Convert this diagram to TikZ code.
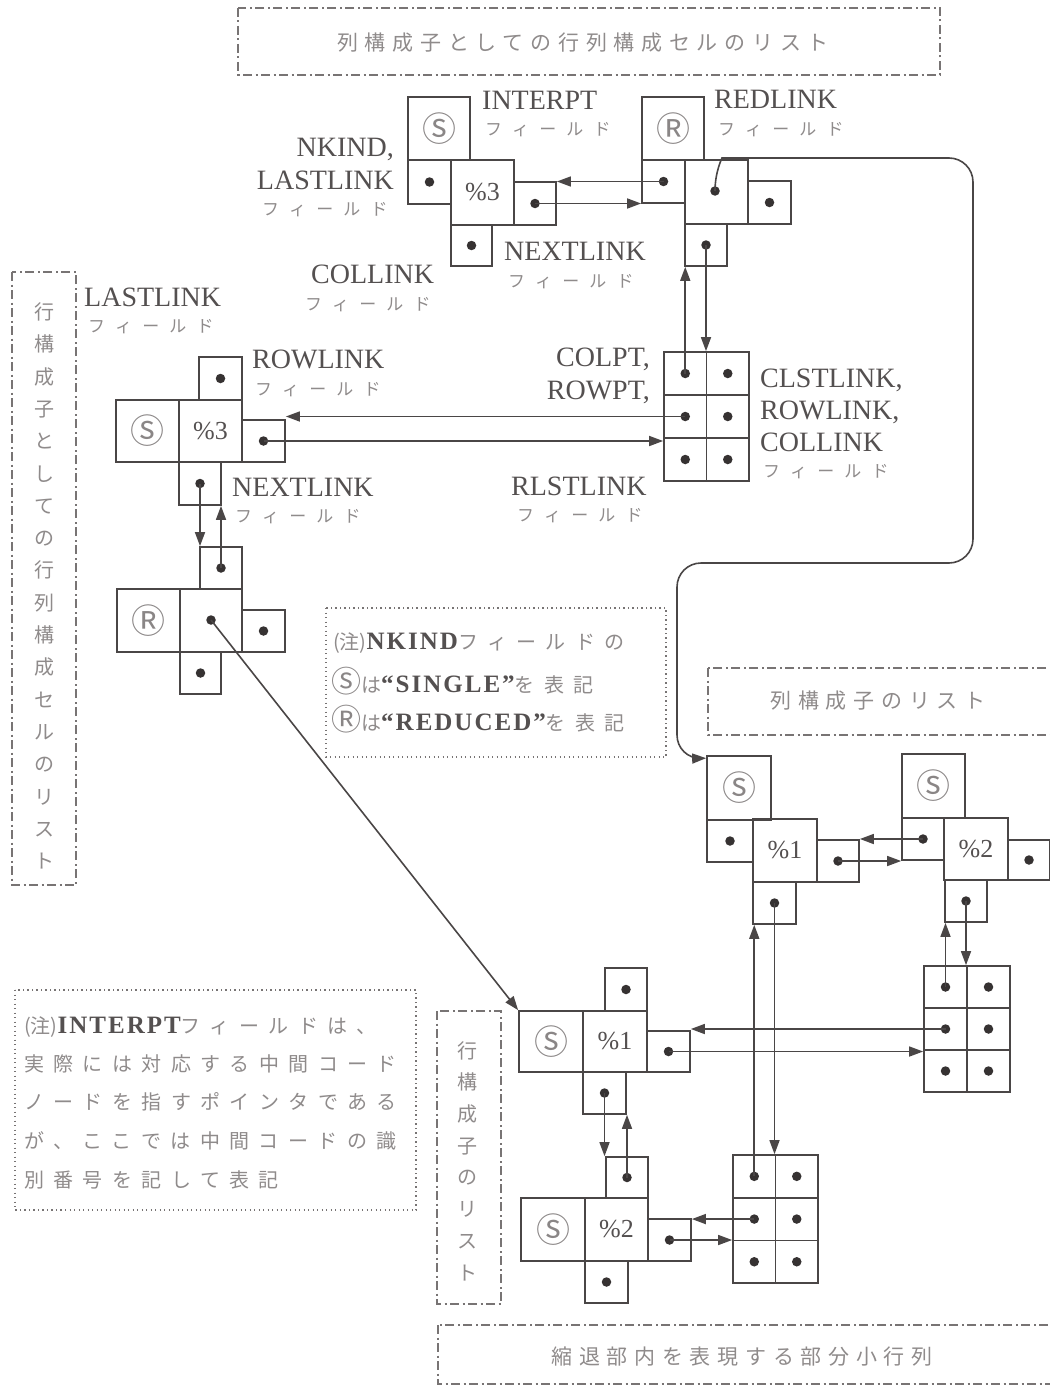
\documentclass[tikz,border=0pt]{standalone}
\usepackage{fontspec}
\setmainfont{Liberation Serif}
\newfontfamily\jp{Noto Sans CJK JP}
\newfontfamily\jpf[LetterSpace=60]{Noto Sans CJK JP}
\newfontfamily\jpt[LetterSpace=32]{Noto Sans CJK JP}
\newfontfamily\jpn[LetterSpace=47]{Noto Sans CJK JP}
\newfontfamily\symf{Noto Sans CJK JP}
\usetikzlibrary{arrows.meta,calc}
\definecolor{linec}{HTML}{4A4646}
\definecolor{dotc}{HTML}{363232}
\definecolor{txtc}{HTML}{545050}
\definecolor{jpc}{HTML}{8F8B8B}
\definecolor{framec}{HTML}{787474}
\definecolor{symc}{HTML}{8A8686}
\newcommand\cS{{\symf\fontsize{34}{34}\selectfont\textcolor{symc}{Ⓢ}}}
\newcommand\cR{{\symf\fontsize{34}{34}\selectfont\textcolor{symc}{Ⓡ}}}
\newcommand\ncS{{\symf\fontsize{30}{30}\selectfont\textcolor{symc}{Ⓢ}}}
\newcommand\ncR{{\symf\fontsize{30}{30}\selectfont\textcolor{symc}{Ⓡ}}}
\newcommand\nj[1]{{\color{jpc}\jpn\fontsize{20}{22}\selectfont #1}}
\newcommand\nb[1]{{\color{txtc}\fontsize{25}{27}\selectfont\bfseries\addfontfeatures{LetterSpace=8}#1}}
\newcommand\bx[6]{\node[cell, minimum width={#4-#2}, minimum height={#5-#3}] (#1) at ({(#2+#4)/2},{(#3+#5)/2}) {#6};}
\newcommand\mtx[5]{%
  \foreach \r/\c/\k in {0/0/a,0/1/b,1/0/c,1/1/d,2/0/e,2/1/f}{%
    \node[cell, minimum width=#4, minimum height=#5] (#1\k) at ({#2+(\c+0.5)*#4},{#3+(\r+0.5)*#5}) {};
    \node[pdot] (#1\k d) at (#1\k) {};
  }}
\begin{document}
\begin{tikzpicture}[x=1pt,y=-1pt,
  cell/.style={draw=linec, line width=1.7pt, rectangle, inner sep=0pt, font=\fontsize{26}{28}\selectfont, text=txtc},
  pdot/.style={circle, fill=dotc, inner sep=0pt, minimum size=9.5pt},
  arr/.style={draw=linec, line width=1.6pt, -{Triangle[length=14pt,width=10pt]}},
  lbl/.style={text=txtc, font=\fontsize{28}{30}\selectfont, inner sep=0pt},
  fld/.style={text=jpc, font=\jpf\fontsize{17}{20}\selectfont, inner sep=0pt},
  ttl/.style={text=jpc, font=\jpt\fontsize{21}{24}\selectfont, inner sep=0pt},
  dd/.style={draw=framec, line width=1.5pt, dash pattern=on 9pt off 3.5pt on 2pt off 3.5pt},
  dotb/.style={draw=framec, line width=1.3pt, dash pattern=on 1.3pt off 3.2pt},
  vtxt/.style={text=jpc, font=\jp\fontsize{20}{32.3}\selectfont, align=center, inner sep=0pt},
  note/.style={inner sep=0pt, anchor=base west, font=\fontsize{23}{25}\selectfont},
]
\useasboundingbox (0,0) rectangle (1049,1386);

% ---------- frames ----------
\draw[dd] (238,8) rectangle (940,75);
\node[ttl] (tTop) at (583,43) {列構成子としての行列構成セルのリスト};
\draw[dd] (12,272) rectangle (76,885);
\node[vtxt] (vRow) at (44,586) {行\\構\\成\\子\\と\\し\\て\\の\\行\\列\\構\\成\\セ\\ル\\の\\リ\\ス\\ト};
\draw[dd] (708,668) rectangle (1062,735);
\node[ttl] (tCol) at (878,701) {列構成子のリスト};
\draw[dd] (437,1011) rectangle (501,1304);
\node[vtxt, font=\jp\fontsize{20}{31.7}\selectfont] (vRow2) at (467,1161) {行\\構\\成\\子\\の\\リ\\ス\\ト};
\draw[dd] (438,1325) rectangle (1062,1384);
\node[ttl] (tSub) at (742,1357) {縮退部内を表現する部分小行列};

\draw[dotb] (326,608) rectangle (666,757);
\draw[dotb] (15,990) rectangle (416,1210);

% ---------- top A (column %3) ----------
\bx{aS}{408}{97}{470}{160}{\cS}
\bx{aL}{408}{160}{451}{204}{}
\bx{aC}{451}{160}{514}{225}{\%3}
\bx{aR}{514}{182}{556}{225}{}
\bx{aB}{451}{225}{492}{266}{}
\node[pdot] (aLd) at (aL) {};
\node[pdot] (aRd) at (aR) {};
\node[pdot] (aBd) at (aB) {};

% ---------- top B (reduced) ----------
\bx{bS}{642}{97}{704}{160}{\cR}
\bx{bL}{642}{160}{685}{203}{}
\bx{bC}{685}{160}{748}{224}{}
\bx{bR}{748}{181}{791}{224}{}
\bx{bB}{685}{224}{727}{266}{}
\node[pdot] (bLd) at (bL) {};
\node[pdot] (bCd) at (715,191) {};
\node[pdot] (bRd) at (bR) {};
\node[pdot] (bBd) at (bB) {};

\draw[arr] (bLd.center) -- (bLd.center -| aR.east);
\draw[arr] (aRd.center) -- (aRd.center -| bL.west);

% ---------- matrix M1 ----------
\mtx{m1}{664}{352}{42.5}{43}
\draw[arr] (m1ad.center) -- (m1ad.center |- bB.south);
\draw[arr] (bBd.center) -- (bBd.center |- m1a.north);

% ---------- left row node %3 ----------
\bx{lT}{199}{357}{242}{400}{}
\bx{lS}{116}{400}{179}{462}{\cS}
\bx{lC}{179}{400}{242}{462}{\%3}
\bx{lR}{242}{420}{285}{462}{}
\bx{lB}{179}{462}{221}{505}{}
\node[pdot] (lTd) at (lT) {};
\node[pdot] (lRd) at (lR) {};
\node[pdot] (lBd) at (lB) {};
\draw[arr] (m1cd.center) -- (m1cd.center -| lR.east);
\draw[arr] (lRd.center) -- (lRd.center -| m1e.west);

% ---------- left reduced node ----------
\bx{rT}{200}{547}{242}{589}{}
\bx{rS}{117}{589}{180}{652}{\cR}
\bx{rC}{180}{589}{242}{652}{}
\bx{rR}{242}{610}{285}{652}{}
\bx{rB}{180}{652}{221}{694}{}
\node[pdot] (rTd) at (rT) {};
\node[pdot] (rCd) at (211,620) {};
\node[pdot] (rRd) at (rR) {};
\node[pdot] (rBd) at (rB) {};
\draw[arr] (lBd.center) -- (lBd.center |- rT.north);
\draw[arr] (rTd.center) -- (rTd.center |- lB.south);

% ---------- column %1 ----------
\bx{cAS}{707}{756}{771}{820}{\cS}
\bx{cAL}{707}{820}{753}{862}{}
\bx{cAC}{753}{819}{817}{882}{\%1}
\bx{cAR}{817}{840}{859}{882}{}
\bx{cAB}{753}{882}{796}{924}{}
\node[pdot] (cALd) at (cAL) {};
\node[pdot] (cARd) at (cAR) {};
\node[pdot] (cABd) at (cAB) {};

% ---------- column %2 ----------
\bx{cBS}{902}{754}{965}{818}{\cS}
\bx{cBL}{902}{818}{944}{860}{}
\bx{cBC}{944}{818}{1008}{880}{\%2}
\bx{cBR}{1008}{840}{1050}{880}{}
\bx{cBB}{945}{880}{987}{922}{}
\node[pdot] (cBLd) at (cBL) {};
\node[pdot] (cBRd) at (cBR) {};
\node[pdot] (cBBd) at (cBB) {};
\draw[arr] (cBLd.center) -- (cBLd.center -| cAR.east);
\draw[arr] (cARd.center) -- (cARd.center -| cBL.west);

% ---------- matrix M2 ----------
\mtx{m2}{924}{966}{43}{42}
\draw[arr] (m2ad.center) -- (m2ad.center |- cBB.south);
\draw[arr] (cBBd.center) -- (cBBd.center |- m2a.north);

% ---------- row %1 ----------
\bx{sAT}{605}{968}{647}{1011}{}
\bx{sAS}{519}{1011}{583}{1072}{\cS}
\bx{sAC}{583}{1011}{647}{1072}{\%1}
\bx{sAR}{647}{1031}{690}{1072}{}
\bx{sAB}{583}{1072}{626}{1114}{}
\node[pdot] (sATd) at (sAT) {};
\node[pdot] (sARd) at (sAR) {};
\node[pdot] (sABd) at (sAB) {};

% ---------- row %2 ----------
\bx{sBT}{606}{1157}{648}{1198}{}
\bx{sBS}{521}{1198}{585}{1261}{\cS}
\bx{sBC}{585}{1198}{648}{1261}{\%2}
\bx{sBR}{648}{1219}{691}{1261}{}
\bx{sBB}{585}{1261}{628}{1303}{}
\node[pdot] (sBTd) at (sBT) {};
\node[pdot] (sBRd) at (sBR) {};
\node[pdot] (sBBd) at (sBB) {};
\draw[arr] (sABd.center) -- (sABd.center |- sBT.north);
\draw[arr] (sBTd.center) -- (sBTd.center |- sAB.south);

% ---------- matrix M3 ----------
\mtx{m3}{733}{1155}{42.5}{42.7}

\draw[arr] (m2cd.center) -- (m2cd.center -| sAR.east);
\draw[arr] (sARd.center) -- (sARd.center -| m2e.west);
\draw[arr] (m3cd.center) -- (m3cd.center -| sBR.east);
\draw[arr] (sBRd.center) -- (sBRd.center -| m3e.west);
\draw[arr] (m3ad.center) -- (m3ad.center |- cAB.south);
\draw[arr] (cABd.center) -- (cABd.center |- m3a.north);

% ---------- long connectors ----------
\draw[arr] (rCd.center) -- (sAS.north west);
\draw[arr, rounded corners=24pt] (bCd.center) .. controls (715,172) and (722,158) .. (746,158)
   -- (973,158) -- (973,563) -- (677,563) -- (677,759) -- ($(cAS.north west)+(0,3)$);

% ---------- labels ----------
\node[lbl, anchor=base west] (lInterpt) at (482,110) {INTERPT};
\node[fld, anchor=west] (fInterpt) at (485,130) {フィールド};
\node[lbl, anchor=base west] (lRedlink) at (714,109) {REDLINK};
\node[fld, anchor=west] (fRedlink) at (718,130) {フィールド};
\node[lbl, anchor=base east] (lNkind) at (394,156) {NKIND,};
\node[lbl, anchor=base east] (lLast1) at (394,189) {LASTLINK};
\node[fld, anchor=west] (fLast1) at (262,210) {フィールド};
\node[lbl, anchor=base west] (lNext1) at (504,260) {NEXTLINK};
\node[fld, anchor=west] (fNext1) at (508,282) {フィールド};
\node[lbl, anchor=base west] (lCol1) at (311,283) {COLLINK};
\node[fld, anchor=west] (fCol1) at (305,305) {フィールド};
\node[lbl, anchor=base west] (lLast2) at (84,306) {LASTLINK};
\node[fld, anchor=west] (fLast2) at (88,327) {フィールド};
\node[lbl, anchor=base west] (lRow1) at (252,368) {ROWLINK};
\node[fld, anchor=west] (fRow1) at (255,390) {フィールド};
\node[lbl, anchor=base east] (lColpt) at (650,366) {COLPT,};
\node[lbl, anchor=base east] (lRowpt) at (650,399) {ROWPT,};
\node[lbl, anchor=base west] (lClst) at (760,387) {CLSTLINK,};
\node[lbl, anchor=base west] (lRow2) at (760,419) {ROWLINK,};
\node[lbl, anchor=base west] (lCol2) at (760,451) {COLLINK};
\node[fld, anchor=west] (fCol2) at (763,472) {フィールド};
\node[lbl, anchor=base west] (lNext2) at (232,496) {NEXTLINK};
\node[fld, anchor=west] (fNext2) at (235,517) {フィールド};
\node[lbl, anchor=base west] (lRlst) at (511,495) {RLSTLINK};
\node[fld, anchor=west] (fRlst) at (517,516) {フィールド};

% ---------- notes ----------
\node[note] (n1a) at (333,649) {{\color{jpc}\jp\fontsize{20}{22}\selectfont (注)}\nb{NKIND}\nj{フィールドの}};
\node[note] (n1b) at (331,692) {\ncS\nj{は}\nb{“SINGLE”}\nj{を表記}};
\node[note] (n1c) at (331,730) {\ncR\nj{は}\nb{“REDUCED”}\nj{を表記}};

\node[note] (n2a) at (24,1033) {{\color{jpc}\jp\fontsize{20}{22}\selectfont (注)}\nb{INTERPT}\nj{フィールドは、}};
\node[note] (n2b) at (24,1071) {\nj{実際には対応する中間コード}};
\node[note] (n2c) at (24,1109) {\nj{ノードを指すポインタである}};
\node[note] (n2d) at (24,1148) {\nj{が、ここでは中間コードの識}};
\node[note] (n2e) at (24,1187) {\nj{別番号を記して表記}};
\end{tikzpicture}
\end{document}
